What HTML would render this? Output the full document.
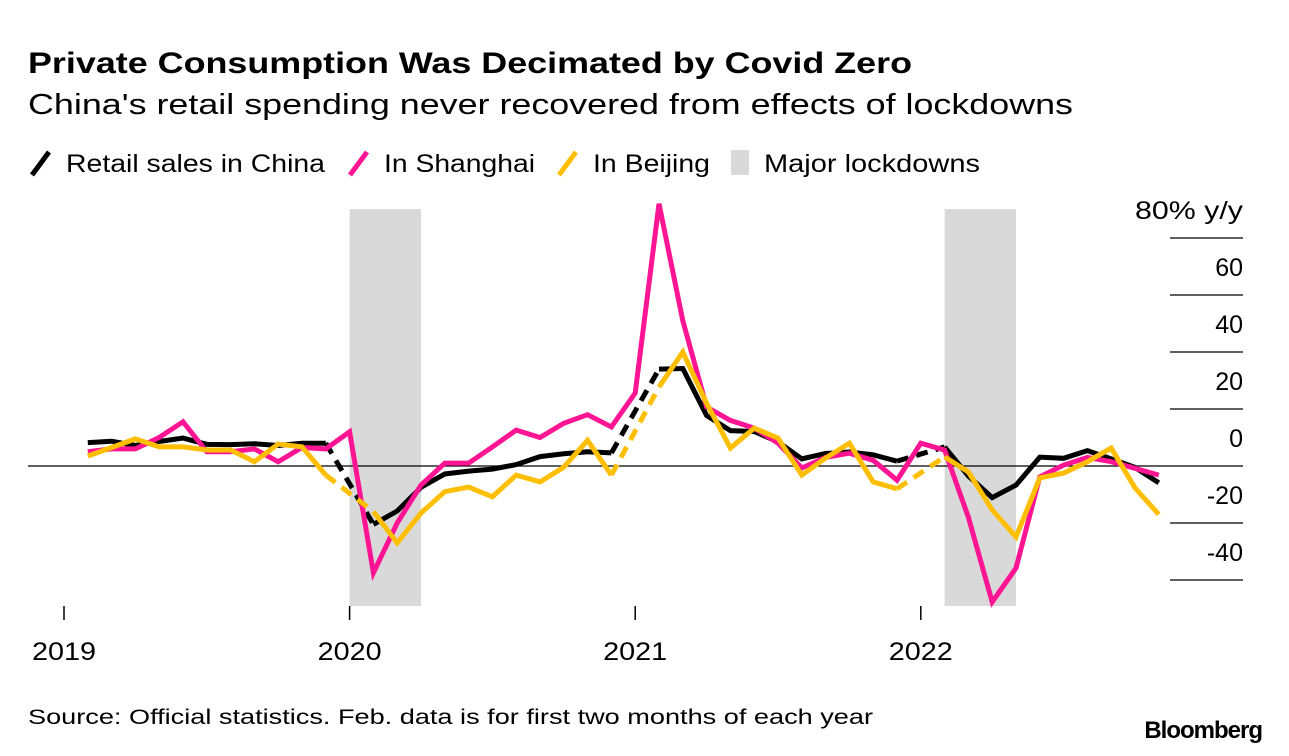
<!DOCTYPE html>
<html><head><meta charset="utf-8"><style>
body{margin:0;background:#fff;font-family:"Liberation Sans",Arial,sans-serif;}
#wrap{position:relative;width:1289px;height:756px;overflow:hidden;}
</style></head><body>
<div id="wrap">
<svg id="chart" width="1289" height="756">
<text x="28" y="73" font-size="30" font-weight="bold" fill="#000" textLength="884" lengthAdjust="spacingAndGlyphs">Private Consumption Was Decimated by Covid Zero</text>
<text x="28" y="114" font-size="29" fill="#000" textLength="1045" lengthAdjust="spacingAndGlyphs">China's retail spending never recovered from effects of lockdowns</text>
<g>
<g><line x1="32" y1="175" x2="49" y2="152" stroke="#000" stroke-width="5"/><text x="66" y="172" font-size="25" textLength="259" lengthAdjust="spacingAndGlyphs">Retail sales in China</text></g>
<g><line x1="350" y1="175" x2="367" y2="152" stroke="#ff1493" stroke-width="5"/><text x="384" y="172" font-size="25" textLength="151" lengthAdjust="spacingAndGlyphs">In Shanghai</text></g>
<g><line x1="559" y1="175" x2="576" y2="152" stroke="#ffbf00" stroke-width="5"/><text x="593" y="172" font-size="25" textLength="117" lengthAdjust="spacingAndGlyphs">In Beijing</text></g>
<g><rect x="731" y="150" width="18" height="25" fill="#d9d9d9"/><text x="764" y="172" font-size="25" textLength="216" lengthAdjust="spacingAndGlyphs">Major lockdowns</text></g>
</g>
<g id="shades"></g>
<g id="axes"></g>
<g id="lines"></g>
<text x="28" y="724" font-size="21" fill="#000" textLength="845" lengthAdjust="spacingAndGlyphs">Source: Official statistics. Feb. data is for first two months of each year</text>
<text x="1262" y="738" font-size="24" font-weight="bold" text-anchor="end" letter-spacing="-1" fill="#000">Bloomberg</text>
</svg>
</div>
<script>
// months index 0 = Feb 2019 ... 45 = Nov 2022
const years = [2019, 2020, 2021, 2022];
const yTicks = [80, 60, 40, 20, 0, -20, -40];
const lockdowns = [[12, 15], [37, 40]]; // months since Jan 2019
const china = [8.2,8.7,7.2,8.6,9.8,7.6,7.5,7.8,7.2,8.0,8.0,null,
  -20.5,-15.8,-7.5,-2.8,-1.8,-1.1,0.5,3.3,4.3,5.0,4.6,null,
  34.0,34.2,17.7,12.4,12.1,8.5,2.5,4.4,4.9,3.9,1.7,null,
  6.7,-3.5,-11.1,-6.7,3.1,2.7,5.4,2.5,-0.5,-5.9];
const shanghai = [5,6,6,10,15.5,5,5,6,1.5,6.5,6,12,
  -37.5,-20,-6.7,1,1,6.7,12.6,10,15,18,13.7,25.6,
  92,51,20.7,16,13.3,8,-0.7,3,4.5,2,-5,8,
  5.6,-18,-47.7,-35.8,-3.8,0.3,3,1.5,-0.8,-3.2];
const beijing = [3.5,6.5,9.5,6.7,6.7,5.6,5.6,1.5,7.7,6.7,-3.2,null,
  -16,-27,-16.5,-9,-7.4,-10.8,-3.2,-5.6,-0.4,9,-3.2,null,
  27.7,40,22,6.3,13.3,9.8,-3.2,2.8,8,-5.6,-8,null,
  3.2,-2.1,-15.4,-24.9,-4.2,-2.5,1.5,6.3,-7.7,-17];

const NS='http://www.w3.org/2000/svg';
const xM = m => 64 + m*23.8;
const xI = i => xM(i+1);
const yV = v => 466 - v*2.85;
function mk(tag, attrs, parent){const e=document.createElementNS(NS,tag);for(const k in attrs)e.setAttribute(k,attrs[k]);parent.appendChild(e);return e;}

const sh=document.getElementById('shades');
lockdowns.forEach((d,i)=>{
  const r=mk('rect',{x:xM(d[0]),y:209,width:xM(d[1])-xM(d[0]),height:397,fill:'#d9d9d9'},sh);
  
  
});

const ax=document.getElementById('axes');
yTicks.forEach(v=>{
  const y=yV(v);
  if(v===0){
    const l=mk('line',{x1:28,x2:1243,y1:y,y2:y,stroke:'#000','stroke-width':1.3},ax);
    
    
  } else {
    const l=mk('line',{x1:1170,x2:1243,y1:y,y2:y,stroke:'#000','stroke-width':1.3},ax);
    
    
  }
  const t=mk('text',{x:1243,y:y-19,'font-size':25,'text-anchor':'end',fill:'#000'},ax);
  t.textContent = v===80 ? '80% y/y' : String(v);
  if(v===80){t.setAttribute('textLength',108);t.setAttribute('lengthAdjust','spacingAndGlyphs');}
  
  
});
years.forEach((yr,i)=>{
  const x=xM(i*12);
  const l=mk('line',{x1:x,x2:x,y1:606,y2:620,stroke:'#000','stroke-width':1.5},ax);
  
  
  const t=mk('text',{x:x,y:660,'font-size':25,'text-anchor':'middle',fill:'#000',textLength:64,lengthAdjust:'spacingAndGlyphs'},ax);
  t.textContent=String(yr);
  
  
});

const lg=document.getElementById('lines');
function draw(arr,color,name){
  let solid='', dash='';
  let prev=-1;
  for(let i=0;i<arr.length;i++){
    if(arr[i]===null) continue;
    const x=xI(i), y=yV(arr[i]);
    if(prev<0){solid+=`M${x},${y}`;}
    else if(i-prev===1){solid+=`L${x},${y}`;}
    else {dash+=`M${xI(prev)},${yV(arr[prev])}L${x},${y}`;solid+=`M${x},${y}`;}
    prev=i;
  }
  if(dash){
    const d=mk('path',{d:dash,fill:'none',stroke:color,'stroke-width':5,'stroke-dasharray':'12 8'},lg);
    
    
  }
  const p=mk('path',{d:solid,fill:'none',stroke:color,'stroke-width':5,'stroke-linejoin':'miter'},lg);
  
  
}
draw(china,'#000','china');
draw(shanghai,'#ff1493','shanghai');
draw(beijing,'#ffbf00','beijing');
</script>
</body></html>
